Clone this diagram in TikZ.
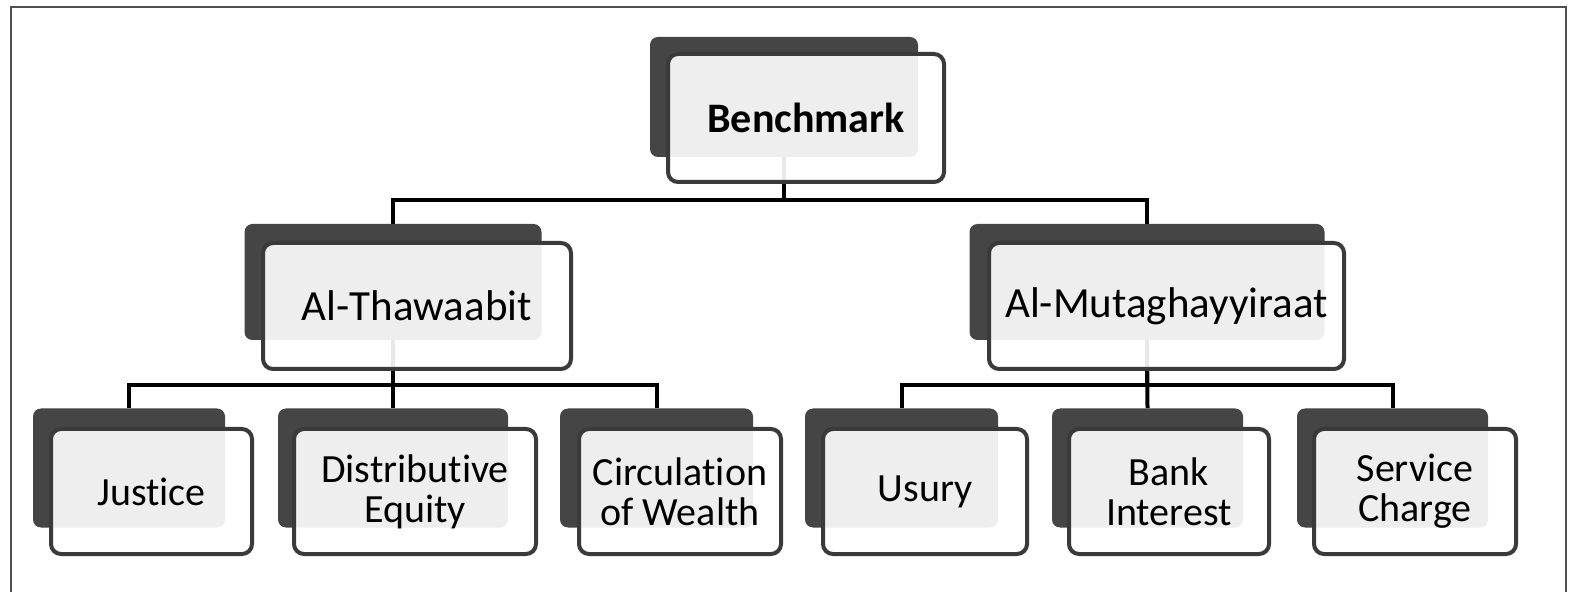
\documentclass[tikz,border=0pt]{standalone}
\usepackage{fontspec}
\setmainfont{Carlito}[Ligatures={NoCommon,NoRequired,NoContextual}]
\usepackage{tikz}
\usetikzlibrary{calc}
\definecolor{stackgray}{HTML}{454545}
\definecolor{edgegray}{HTML}{3A3A3A}
\definecolor{framegray}{HTML}{505050}

\begin{document}
\begin{tikzpicture}[
  x=0.5pt,y=-0.5pt,
  back/.style={fill=stackgray,rounded corners=4pt,inner sep=0pt,minimum height=#1},
  back/.default=59.5pt,
  front/.style={draw=edgegray,line width=2pt,fill=white,fill opacity=0.91,text opacity=1,
    rounded corners=5pt,inner sep=0pt,align=center,minimum height=#1,
    font=\fontsize{20}{20}\selectfont},
  front/.default=62.5pt,
  link/.style={line width=2pt,black}
]
\useasboundingbox (0,0) rectangle (1578,592);
\draw[framegray,line width=1pt] (11,592) -- (11,7) -- (1566,7) -- (1566,592);
% dark cards at the back
\node[back=60pt,minimum width=134pt] (bm) at (784,97) {};
\node[back=58pt,minimum width=148.5pt] (thw) at (393,282) {};
\node[back=58pt,minimum width=177.5pt] (mut) at (1147,282) {};
\node[back,minimum width=96pt] (jus) at (129,468) {};
\node[back,minimum width=115pt] (deq) at (393,468) {};
\node[back,minimum width=96.5pt] (cow) at (656.5,468) {};
\node[back,minimum width=96.5pt] (usu) at (901.5,468) {};
\node[back,minimum width=95.5pt] (bnk) at (1147.5,468) {};
\node[back,minimum width=95.5pt] (svc) at (1392.5,468) {};
% tree lines
\draw[link] (bm.south) -- ++(0,43) -| (thw.north);
\draw[link] (bm.south) -- ++(0,43) -| (mut.north);
\draw[link] (thw.south) -- ++(0,45) -| (jus.north);
\draw[link] (thw.south) -- (deq.north);
\draw[link] (thw.south) -- ++(0,45) -| (cow.north);
\draw[link] (mut.south) -- ++(0,45) -| (usu.north);
\draw[link] (mut.south) -- (bnk.north);
\draw[link] (mut.south) -- ++(0,45) -| (svc.north);
% white cards in front
\node[front=64pt,minimum width=138pt,font=\fontsize{21}{21}\selectfont\bfseries] (bm-f) at ($(bm)+(22,21)$) {Benchmark};
\node[front=63pt,minimum width=154pt,font=\fontsize{21.5}{21}\selectfont] (thw-f) at ($(thw)+(24,24)$) {Al-Thawaabit};
\node[front=63pt,minimum width=177.5pt,font=\fontsize{21.5}{21}\selectfont] (mut-f) at ($(mut)+(19.5,24)$) {Al-Mutaghayyiraat};
\node[front,minimum width=100.5pt] (jus-f) at ($(jus)+(22.5,23.5)$) {Justice};
\node[front,minimum width=121pt] (deq-f) at ($(deq)+(22,23.5)$) {Distributive\\Equity};
\node[front,minimum width=101pt] (cow-f) at ($(cow)+(23.5,23.5)$) {Circulation\\of Wealth};
\node[front,minimum width=102pt] (usu-f) at ($(usu)+(23.5,23.5)$) {Usury};
\node[front,minimum width=100pt] (bnk-f) at ($(bnk)+(21.5,23.5)$) {Bank\\Interest};
\node[front,minimum width=101pt] (svc-f) at ($(svc)+(22.5,23.5)$) {Service\\Charge};
\end{tikzpicture}
\end{document}
